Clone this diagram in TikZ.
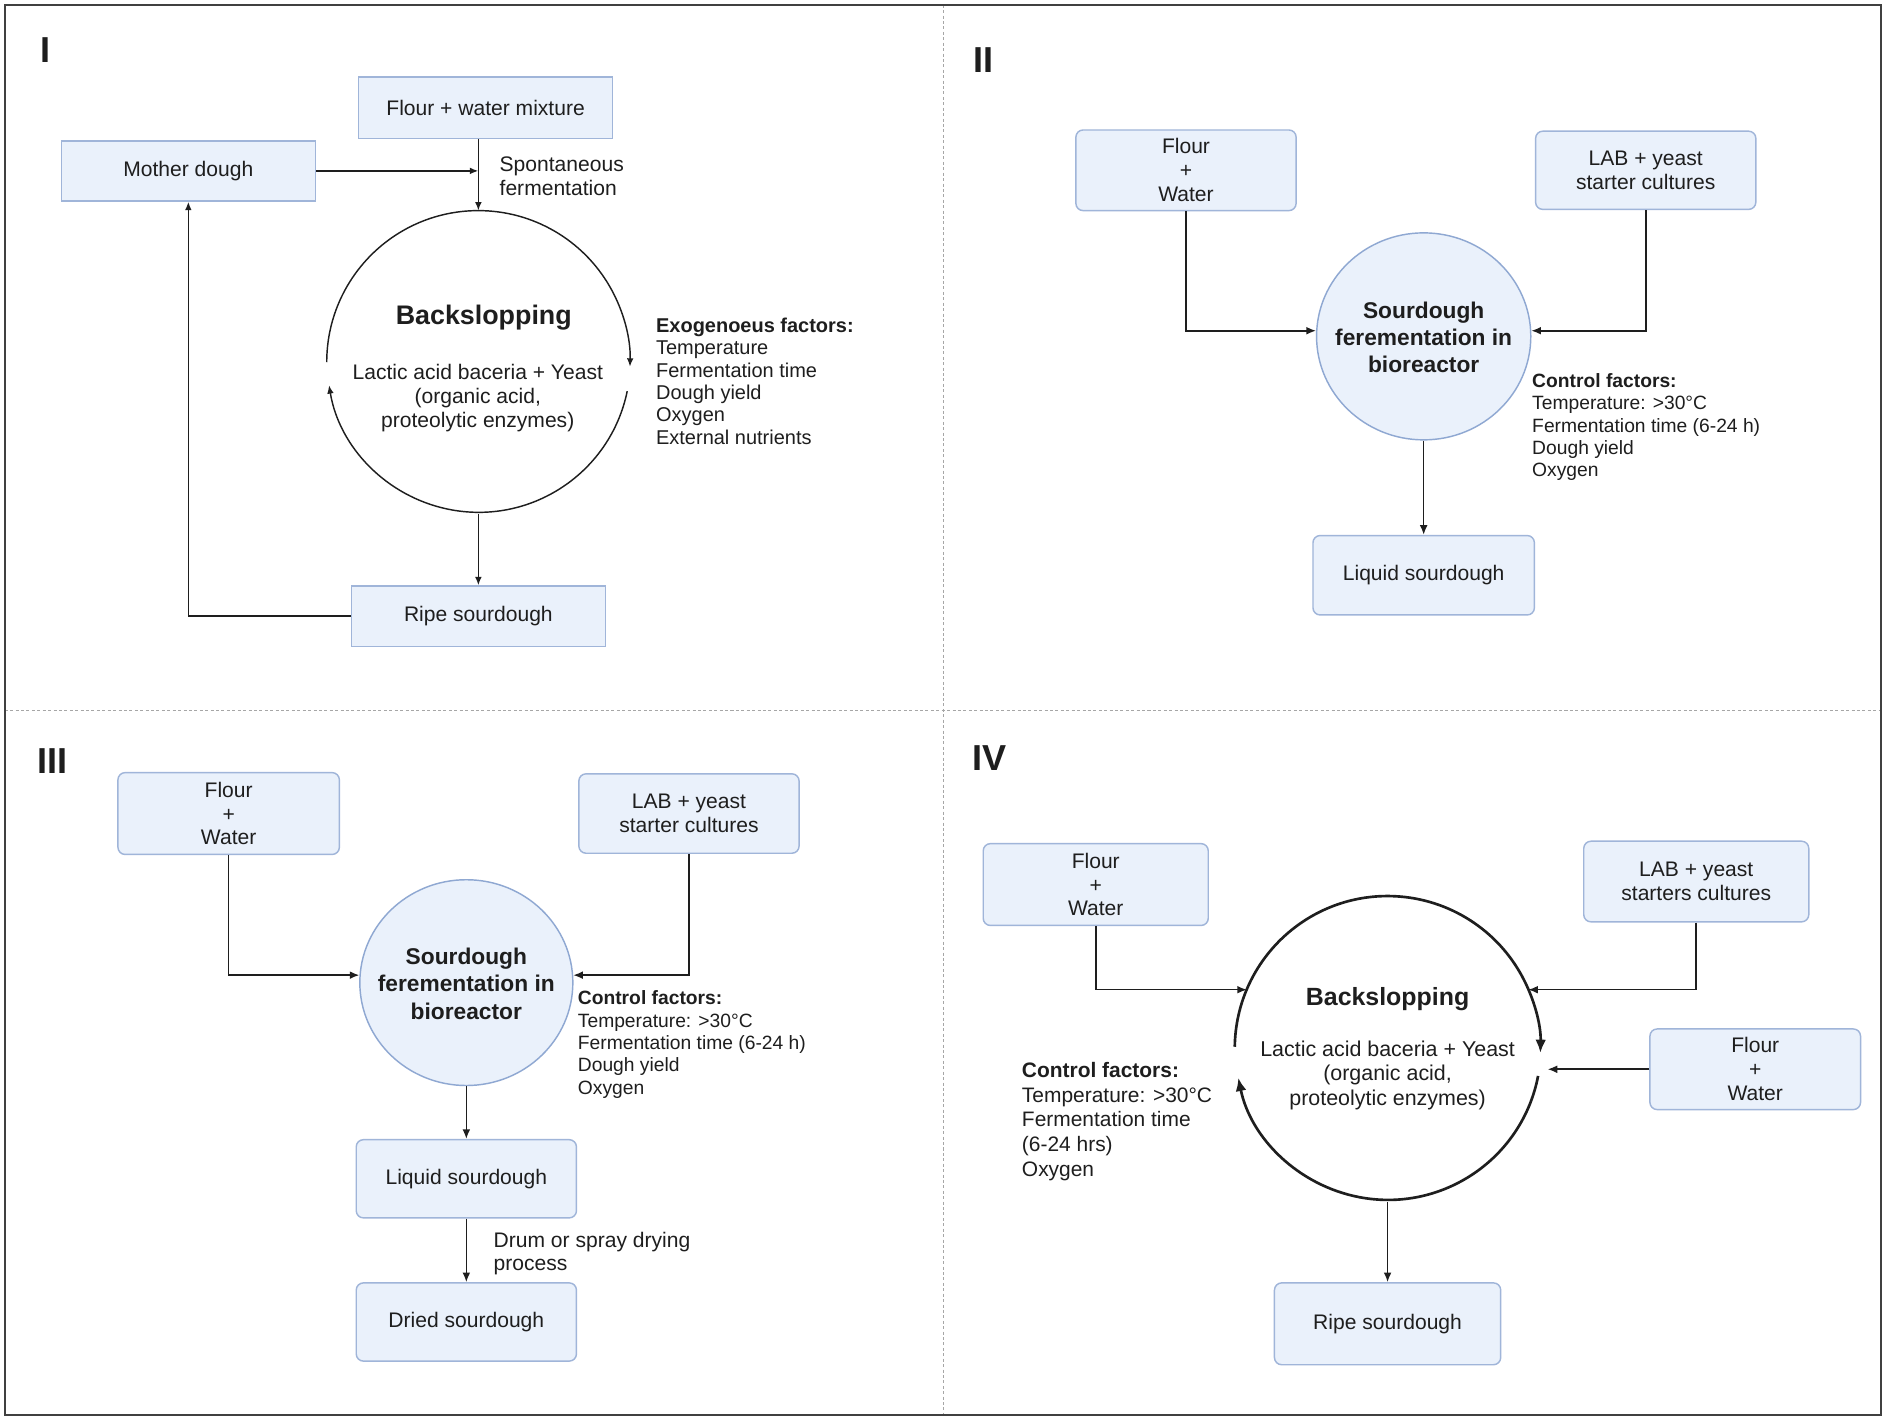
\documentclass[tikz,border=0pt]{standalone}
\usepackage{fontspec}
\setmainfont{Liberation Sans}
\usetikzlibrary{arrows.meta,shapes.geometric}
\definecolor{boxfill}{RGB}{234,241,251}
\definecolor{boxline}{RGB}{160,181,217}
\definecolor{circline}{RGB}{143,168,210}
\definecolor{ink}{RGB}{30,30,30}
\newcommand\myfs[2]{\fontsize{#1}{#2}\selectfont}
\begin{document}
\begin{tikzpicture}[x=1pt,y=-1pt,
  every node/.style={inner sep=0pt, text=ink},
  sqbox/.style={draw=boxline, fill=boxfill, line width=1.2pt, align=center, font=\myfs{17.5}{19.8}},
  rbox/.style={sqbox, rounded corners=6pt},
  bioc/.style={ellipse, draw=circline, fill=boxfill, line width=1.2pt},
  biotext/.style={align=center, font=\bfseries\myfs{18.9}{22.5}},
  ringc/.style={circle, outer sep=0pt},
  connI/.style={draw=ink, line width=1.2pt, -{Latex[length=7pt,width=5.5pt]}},
  conn/.style={draw=ink, line width=1.3pt, -{Latex[length=8pt,width=6.5pt]}},
  arcI/.style={draw=ink, line width=1.2pt, -{Latex[length=7pt,width=5.5pt]}},
  arcIV/.style={draw=ink, line width=2.2pt, -{Latex[length=11pt,width=9pt]}},
  factors/.style={align=left, anchor=north west, font=\myfs{16}{18.6}},
  plain/.style={align=center, font=\myfs{17.5}{20}},
  panel/.style={font=\bfseries\myfs{30}{30}},
  bigbold/.style={font=\bfseries\myfs{22.3}{24}},
]
\fill[white] (0,0) rectangle (1568,1180.8);
\useasboundingbox (0,0) rectangle (1568,1180.8);

% frame and dividers
\draw[gray!70, line width=0.8pt, dash pattern=on 2.5pt off 2pt] (784,4) -- (784,1176);
\draw[gray!70, line width=0.8pt, dash pattern=on 2.5pt off 2pt] (4,590) -- (1563,590);
\draw[ink!85, line width=1.4pt] (4,4) rectangle (1563,1176);

% ================= Panel I =================
\node[panel] (lI) at (38,42) {I};
\node[sqbox, minimum width=211pt, minimum height=51pt] (flourmix) at (403.5,89.5) {Flour + water mixture};
\node[sqbox, minimum width=211pt, minimum height=50pt] (mother) at (156.5,142) {Mother dough};
\node[sqbox, minimum width=211pt, minimum height=50pt] (ripeI) at (397.5,512) {Ripe sourdough};
\node[ringc, minimum size=252pt] (circI) at (397.5,301) {};
\node[bigbold] (bsI) at (402,264) {Backslopping};
\node[plain] (labI) at (397,330.5) {Lactic acid baceria + Yeast\\(organic acid,\\proteolytic enzymes)};
\node[align=left, anchor=north west, font=\myfs{17.5}{19.5}] (spont) at (415,130.5) {Spontaneous\\fermentation};
\node[align=left, anchor=north west, font=\myfs{16.6}{18.6}] (exo) at (545,263.9)
  {\textbf{Exogenoeus factors:}\\Temperature\\Fermentation time\\Dough yield\\Oxygen\\External nutrients};

\draw[arcI] (circI.180) arc[start angle=180, end angle=-1.7, radius=126pt];
\draw[arcI] (circI.-11.6) arc[start angle=-11.6, end angle=-170.7, radius=126pt];
\draw[connI] (mother.east) -- (circI.north |- mother.east);
\draw[connI] (circI.north |- flourmix.south) -- (circI.north);
\draw[connI] (circI.south) -- (ripeI.north);
\draw[connI] (ripeI.west) -| (mother.south);

% ================= Panel II =================
\node[panel] (lII) at (817,50) {II};
\node[rbox, minimum width=183pt, minimum height=67pt] (flourII) at (985.5,141.5) {Flour\\+\\Water};
\node[rbox, minimum width=183pt, minimum height=65pt] (labII) at (1367.5,141.5) {LAB + yeast\\starter cultures};
\node[bioc, minimum width=178pt, minimum height=172pt] (circII) at (1183,279.5) {};
\node[biotext] (circIIt) at (1183,280.5) {Sourdough\\ferementation in\\bioreactor};
\node[rbox, minimum width=184pt, minimum height=66pt] (liqII) at (1183,478) {Liquid sourdough};
\node[factors] (ctrlII) at (1273,310)
  {\textbf{Control factors:}\\Temperature: >30°C\\Fermentation time (6-24 h)\\Dough yield\\Oxygen};
\draw[conn] (flourII.south) |- (circII.177);
\draw[conn] (labII.south) |- (circII.3);
\draw[conn] (circII.south) -- (liqII.north);

% ================= Panel III =================
\node[panel] (lIII) at (44,632) {III};
\node[rbox, minimum width=184pt, minimum height=68pt] (flourIII) at (190,676) {Flour\\+\\Water};
\node[rbox, minimum width=183pt, minimum height=66pt] (labIII) at (572.5,676) {LAB + yeast\\starter cultures};
\node[bioc, minimum width=177pt, minimum height=171pt] (circIII) at (387.5,816.5) {};
\node[biotext] (circIIIt) at (387.5,817.5) {Sourdough\\ferementation in\\bioreactor};
\node[rbox, minimum width=183pt, minimum height=65pt] (liqIII) at (387.5,979.5) {Liquid sourdough};
\node[rbox, minimum width=183pt, minimum height=65pt] (driedIII) at (387.5,1098.5) {Dried sourdough};
\node[factors] (ctrlIII) at (480,823)
  {\textbf{Control factors:}\\Temperature: >30°C\\Fermentation time (6-24 h)\\Dough yield\\Oxygen};
\node[align=left, anchor=north west, font=\myfs{17.5}{19.5}] (drum) at (410,1023.5) {Drum or spray drying\\process};
\draw[conn] (flourIII.south) |- (circIII.176);
\draw[conn] (labIII.south) |- (circIII.4);
\draw[conn] (circIII.south) -- (liqIII.north);
\draw[conn] (liqIII.south) -- (driedIII.north);

% ================= Panel IV =================
\node[panel] (lIV) at (822,630) {IV};
\node[rbox, minimum width=187pt, minimum height=68pt] (flourIVa) at (910.5,735) {Flour\\+\\Water};
\node[rbox, minimum width=187pt, minimum height=67pt] (labIV) at (1409.5,732.5) {LAB + yeast\\starters cultures};
\node[rbox, minimum width=175pt, minimum height=67pt] (flourIVb) at (1458.5,888.5) {Flour\\+\\Water};
\node[rbox, minimum width=188pt, minimum height=68pt] (ripeIV) at (1153,1100) {Ripe sourdough};
\node[ringc, minimum size=254pt] (circIV) at (1153,872) {};
\node[font=\bfseries\myfs{20.7}{22}] (bsIV) at (1153,830) {Backslopping};
\node[align=center, font=\myfs{17.8}{20.5}] (labtIV) at (1153,893.5) {Lactic acid baceria + Yeast\\(organic acid,\\proteolytic enzymes)};
\node[align=left, anchor=north west, font=\myfs{17.4}{20.5}] (ctrlIV) at (849,882.6)
  {\textbf{Control factors:}\\Temperature: >30°C\\Fermentation time\\(6-24 hrs)\\Oxygen};
\coordinate (fIVend) at (1286,888.5);

\draw[arcIV] (circIV.179.2) arc[start angle=179.2, end angle=-1.5, radius=127pt];
\draw[arcIV] (circIV.-10.9) arc[start angle=-10.9, end angle=-168.4, radius=127pt];
\draw[conn] (flourIVa.south) |- (circIV.157);
\draw[conn] (labIV.south) |- (circIV.23);
\draw[conn] (flourIVb.west) -- (fIVend);
\draw[conn] (circIV.south) -- (ripeIV.north);
\end{tikzpicture}
\end{document}
